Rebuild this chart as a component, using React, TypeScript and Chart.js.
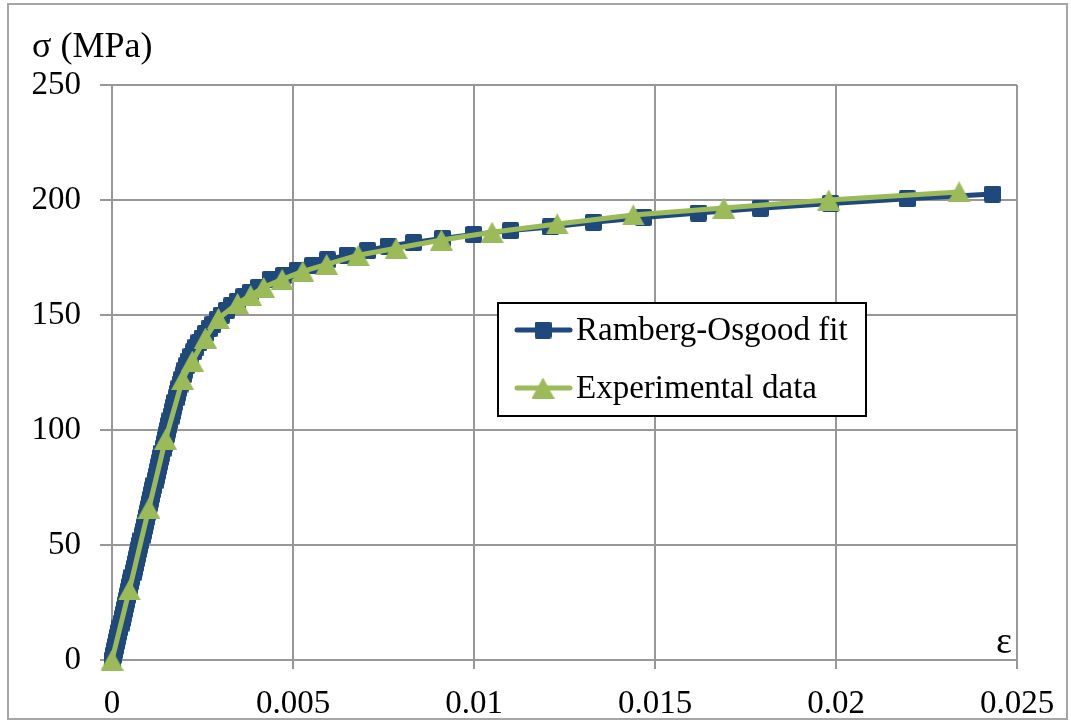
import React, { useEffect, useRef } from "react";
import { Chart, registerables } from "chart.js";

Chart.register(...registerables);

// ---------- data ----------
const seriesNames = ["Ramberg-Osgood fit", "Experimental data"];
const yTitle = "σ (MPa)";
const xTitle = "ε";

const fitStress = [
  0, 2, 4, 6, 8, 10, 12, 14, 16, 18, 20, 22, 24, 26, 28, 30, 32, 34, 36, 38,
  40, 42, 44, 46, 48, 50, 52, 54, 56, 58, 60, 62, 64, 66, 68, 70, 72, 74, 76, 78,
  80, 82, 84, 86, 88, 90, 92, 94, 96, 98, 100, 102, 104, 106, 108, 110, 112, 114, 116, 118,
  120, 122, 124, 126, 128, 130, 132, 134, 136, 138, 140, 142, 144, 146, 148, 150, 152, 154, 156, 158,
  160, 162, 165.5, 167.2, 169.5, 171.5, 174, 176, 178, 180, 181.5, 183.3, 185, 186.7, 188.3, 190.3,
  192.4, 194.3, 196.4, 198.5, 200.5, 202.6,
];
const fitStrain = [
  0, 0.00003, 0.00006, 0.00009, 0.00012, 0.00015, 0.00018, 0.00022, 0.00025, 0.00028,
  0.00031, 0.00034, 0.00037, 0.0004, 0.00043, 0.00046, 0.00049, 0.00052, 0.00055, 0.00059,
  0.00062, 0.00065, 0.00068, 0.00071, 0.00074, 0.00077, 0.0008, 0.00083, 0.00086, 0.00089,
  0.00092, 0.00095, 0.00098, 0.00101, 0.00104, 0.00107, 0.0011, 0.00113, 0.00116, 0.00119,
  0.00122, 0.00125, 0.00128, 0.00131, 0.00134, 0.00138, 0.00141, 0.00144, 0.00147, 0.0015,
  0.00153, 0.00156, 0.0016, 0.00163, 0.00166, 0.0017, 0.00173, 0.00177, 0.0018, 0.00184,
  0.00188, 0.00192, 0.00197, 0.00201, 0.00206, 0.00212, 0.00218, 0.00225, 0.00232, 0.0024,
  0.00249, 0.00258, 0.00268, 0.00279, 0.00291, 0.00303, 0.00316, 0.0033, 0.00346, 0.00364,
  0.00383, 0.00405, 0.00438, 0.00474, 0.00512, 0.00554, 0.00595, 0.0065, 0.00706, 0.00764,
  0.00833, 0.00913, 0.00999, 0.01101, 0.01211, 0.0133, 0.01468, 0.0162, 0.01791, 0.01985,
  0.02197, 0.02432,
];

const expStrain = [
  0, 0.00048, 0.00102, 0.00148, 0.00195, 0.00222, 0.00258, 0.00294, 0.00347, 0.00383,
  0.00419, 0.0047, 0.00527, 0.00593, 0.0068, 0.00785, 0.0091, 0.0105, 0.0123, 0.0144,
  0.0169, 0.0198, 0.0234,
];
const expStress = [
  0, 30.5, 66, 96, 122, 130, 140, 148.5, 155, 158.5,
  162, 165.5, 169, 172, 176, 179, 182.6, 186, 189.6, 193.5,
  196.5, 200, 203.5,
];

const xTicks = [0, 0.005, 0.01, 0.015, 0.02, 0.025];
const xTickLabels = ["0", "0.005", "0.01", "0.015", "0.02", "0.025"];
const yTicks = [0, 50, 100, 150, 200, 250];
const yTickLabels = ["0", "50", "100", "150", "200", "250"];

// ---------- styles ----------
const BLUE = "#1F497D";
const GREEN = "#9BBB59";
const GRID = "#989898";
const FONT = "'Liberation Serif', 'Times New Roman', serif";

function makeTriangle(color: string) {
  const c = document.createElement("canvas");
  c.width = 23;
  c.height = 21;
  const g = c.getContext("2d")!;
  g.fillStyle = color;
  g.beginPath();
  g.moveTo(11.5, 0);
  g.lineTo(23, 21);
  g.lineTo(0, 21);
  g.closePath();
  g.fill();
  return c;
}

function makeSquare(color: string) {
  const c = document.createElement("canvas");
  c.width = 17;
  c.height = 17;
  const g = c.getContext("2d")!;
  g.fillStyle = color;
  g.beginPath();
  if ((g as any).roundRect) (g as any).roundRect(0, 0, 17, 17, 2);
  else g.rect(0, 0, 17, 17);
  g.fill();
  return c;
}

export default function App() {
  const ref = useRef<HTMLCanvasElement | null>(null);

  useEffect(() => {
    document.body.style.margin = "0";
    const canvas = ref.current;
    if (!canvas) return;
    const sq = makeSquare(BLUE);
    const tri = makeTriangle(GREEN);

    const overlay = {
      id: "overlay",
      afterDraw(chart: any) {
        const ctx = chart.ctx as CanvasRenderingContext2D;
        const ca = chart.chartArea;
        ctx.save();
        // axis titles
        ctx.fillStyle = "#000";
        ctx.font = `36px ${FONT}`;
        ctx.textAlign = "left";
        ctx.textBaseline = "alphabetic";
        ctx.fillText(yTitle, 32, 57);
        ctx.font = `38px ${FONT}`;
        ctx.textAlign = "right";
        ctx.fillText(xTitle, ca.right - 5, ca.bottom - 7);

        // legend
        const lx = ca.left + 385;
        const ly = ca.top + 217;
        const lw = 370;
        const lh = 115;
        ctx.fillStyle = "#fff";
        ctx.fillRect(lx, ly, lw, lh);
        ctx.strokeStyle = "#000";
        ctx.lineWidth = 2;
        ctx.strokeRect(lx + 1, ly + 1, lw - 2, lh - 2);
        const rows = [
          { name: seriesNames[0], color: BLUE, img: sq, y: ly + 28 },
          { name: seriesNames[1], color: GREEN, img: tri, y: ly + 86 },
        ];
        rows.forEach((r) => {
          ctx.strokeStyle = r.color;
          ctx.lineWidth = 5;
          ctx.lineCap = "round";
          ctx.beginPath();
          ctx.moveTo(lx + 20, r.y);
          ctx.lineTo(lx + 73, r.y);
          ctx.stroke();
          ctx.drawImage(r.img, lx + 46 - r.img.width / 2, r.y - r.img.height / 2);
          ctx.fillStyle = "#000";
          ctx.font = `33px ${FONT}`;
          ctx.textAlign = "left";
          ctx.textBaseline = "middle";
          ctx.fillText(r.name, lx + 79, r.y + 1);
        });
        ctx.restore();
      },
    };

    const chart = new Chart(canvas, {
      type: "line",
      data: {
        datasets: [
          {
            label: seriesNames[1],
            data: expStrain.map((x, i) => ({ x, y: expStress[i] })),
            borderColor: GREEN,
            backgroundColor: GREEN,
            borderWidth: 5,
            pointStyle: tri as any,
            pointRadius: 11,
            borderCapStyle: "round",
            borderJoinStyle: "round",
            tension: 0,
            order: 1,
            clip: false,
          },
          {
            label: seriesNames[0],
            data: fitStrain.map((x, i) => ({ x, y: fitStress[i] })),
            borderColor: BLUE,
            backgroundColor: BLUE,
            borderWidth: 5,
            pointStyle: sq as any,
            pointRadius: 9,
            borderCapStyle: "round",
            borderJoinStyle: "round",
            tension: 0,
            order: 2,
            clip: false,
          },
        ],
      },
      options: {
        responsive: false,
        animation: false,
        events: [],
        layout: { padding: { left: 0, top: 85, right: 54, bottom: 0 } },
        plugins: {
          legend: { display: false },
          tooltip: { enabled: false },
          title: { display: false },
        },
        scales: {
          x: {
            type: "linear",
            min: 0,
            max: 0.025,
            afterBuildTicks: (s: any) => {
              s.ticks = xTicks.map((v) => ({ value: v }));
            },
            afterFit: (s: any) => {
              s.height = 62;
            },
            ticks: {
              callback: (v: any) => {
                const i = xTicks.findIndex((t) => Math.abs(t - Number(v)) < 1e-9);
                return i >= 0 ? xTickLabels[i] : "";
              },
              font: { family: FONT, size: 33 },
              color: "#000",
              padding: 16,
              maxRotation: 0,
              autoSkip: false,
            },
            grid: { color: GRID, lineWidth: 2, tickLength: 9, drawTicks: true },
            border: { color: GRID, width: 2 },
          },
          y: {
            type: "linear",
            min: 0,
            max: 250,
            afterBuildTicks: (s: any) => {
              s.ticks = yTicks.map((v) => ({ value: v }));
            },
            afterFit: (s: any) => {
              s.width = 112;
            },
            ticks: {
              callback: (v: any) => {
                const i = yTicks.indexOf(Number(v));
                return i >= 0 ? yTickLabels[i] : "";
              },
              font: { family: FONT, size: 33 },
              color: "#000",
              padding: 19,
              autoSkip: false,
            },
            grid: { color: GRID, lineWidth: 2, tickLength: 12, drawTicks: true },
            border: { color: GRID, width: 2 },
          },
        },
      },
      plugins: [overlay],
    } as any);

    return () => chart.destroy();
  }, []);

  return (
    <div style={{ position: "relative", width: 1071, height: 722, background: "#fff" }}>
      <canvas
        ref={ref}
        width={1071}
        height={722}
        style={{ position: "absolute", left: 0, top: 0, width: 1071, height: 722 }}
      />
      <div
        style={{
          position: "absolute",
          left: 7,
          top: 3,
          width: 1057,
          height: 713,
          border: "2px solid #a6a6a6",
          pointerEvents: "none",
        }}
      />
    </div>
  );
}
